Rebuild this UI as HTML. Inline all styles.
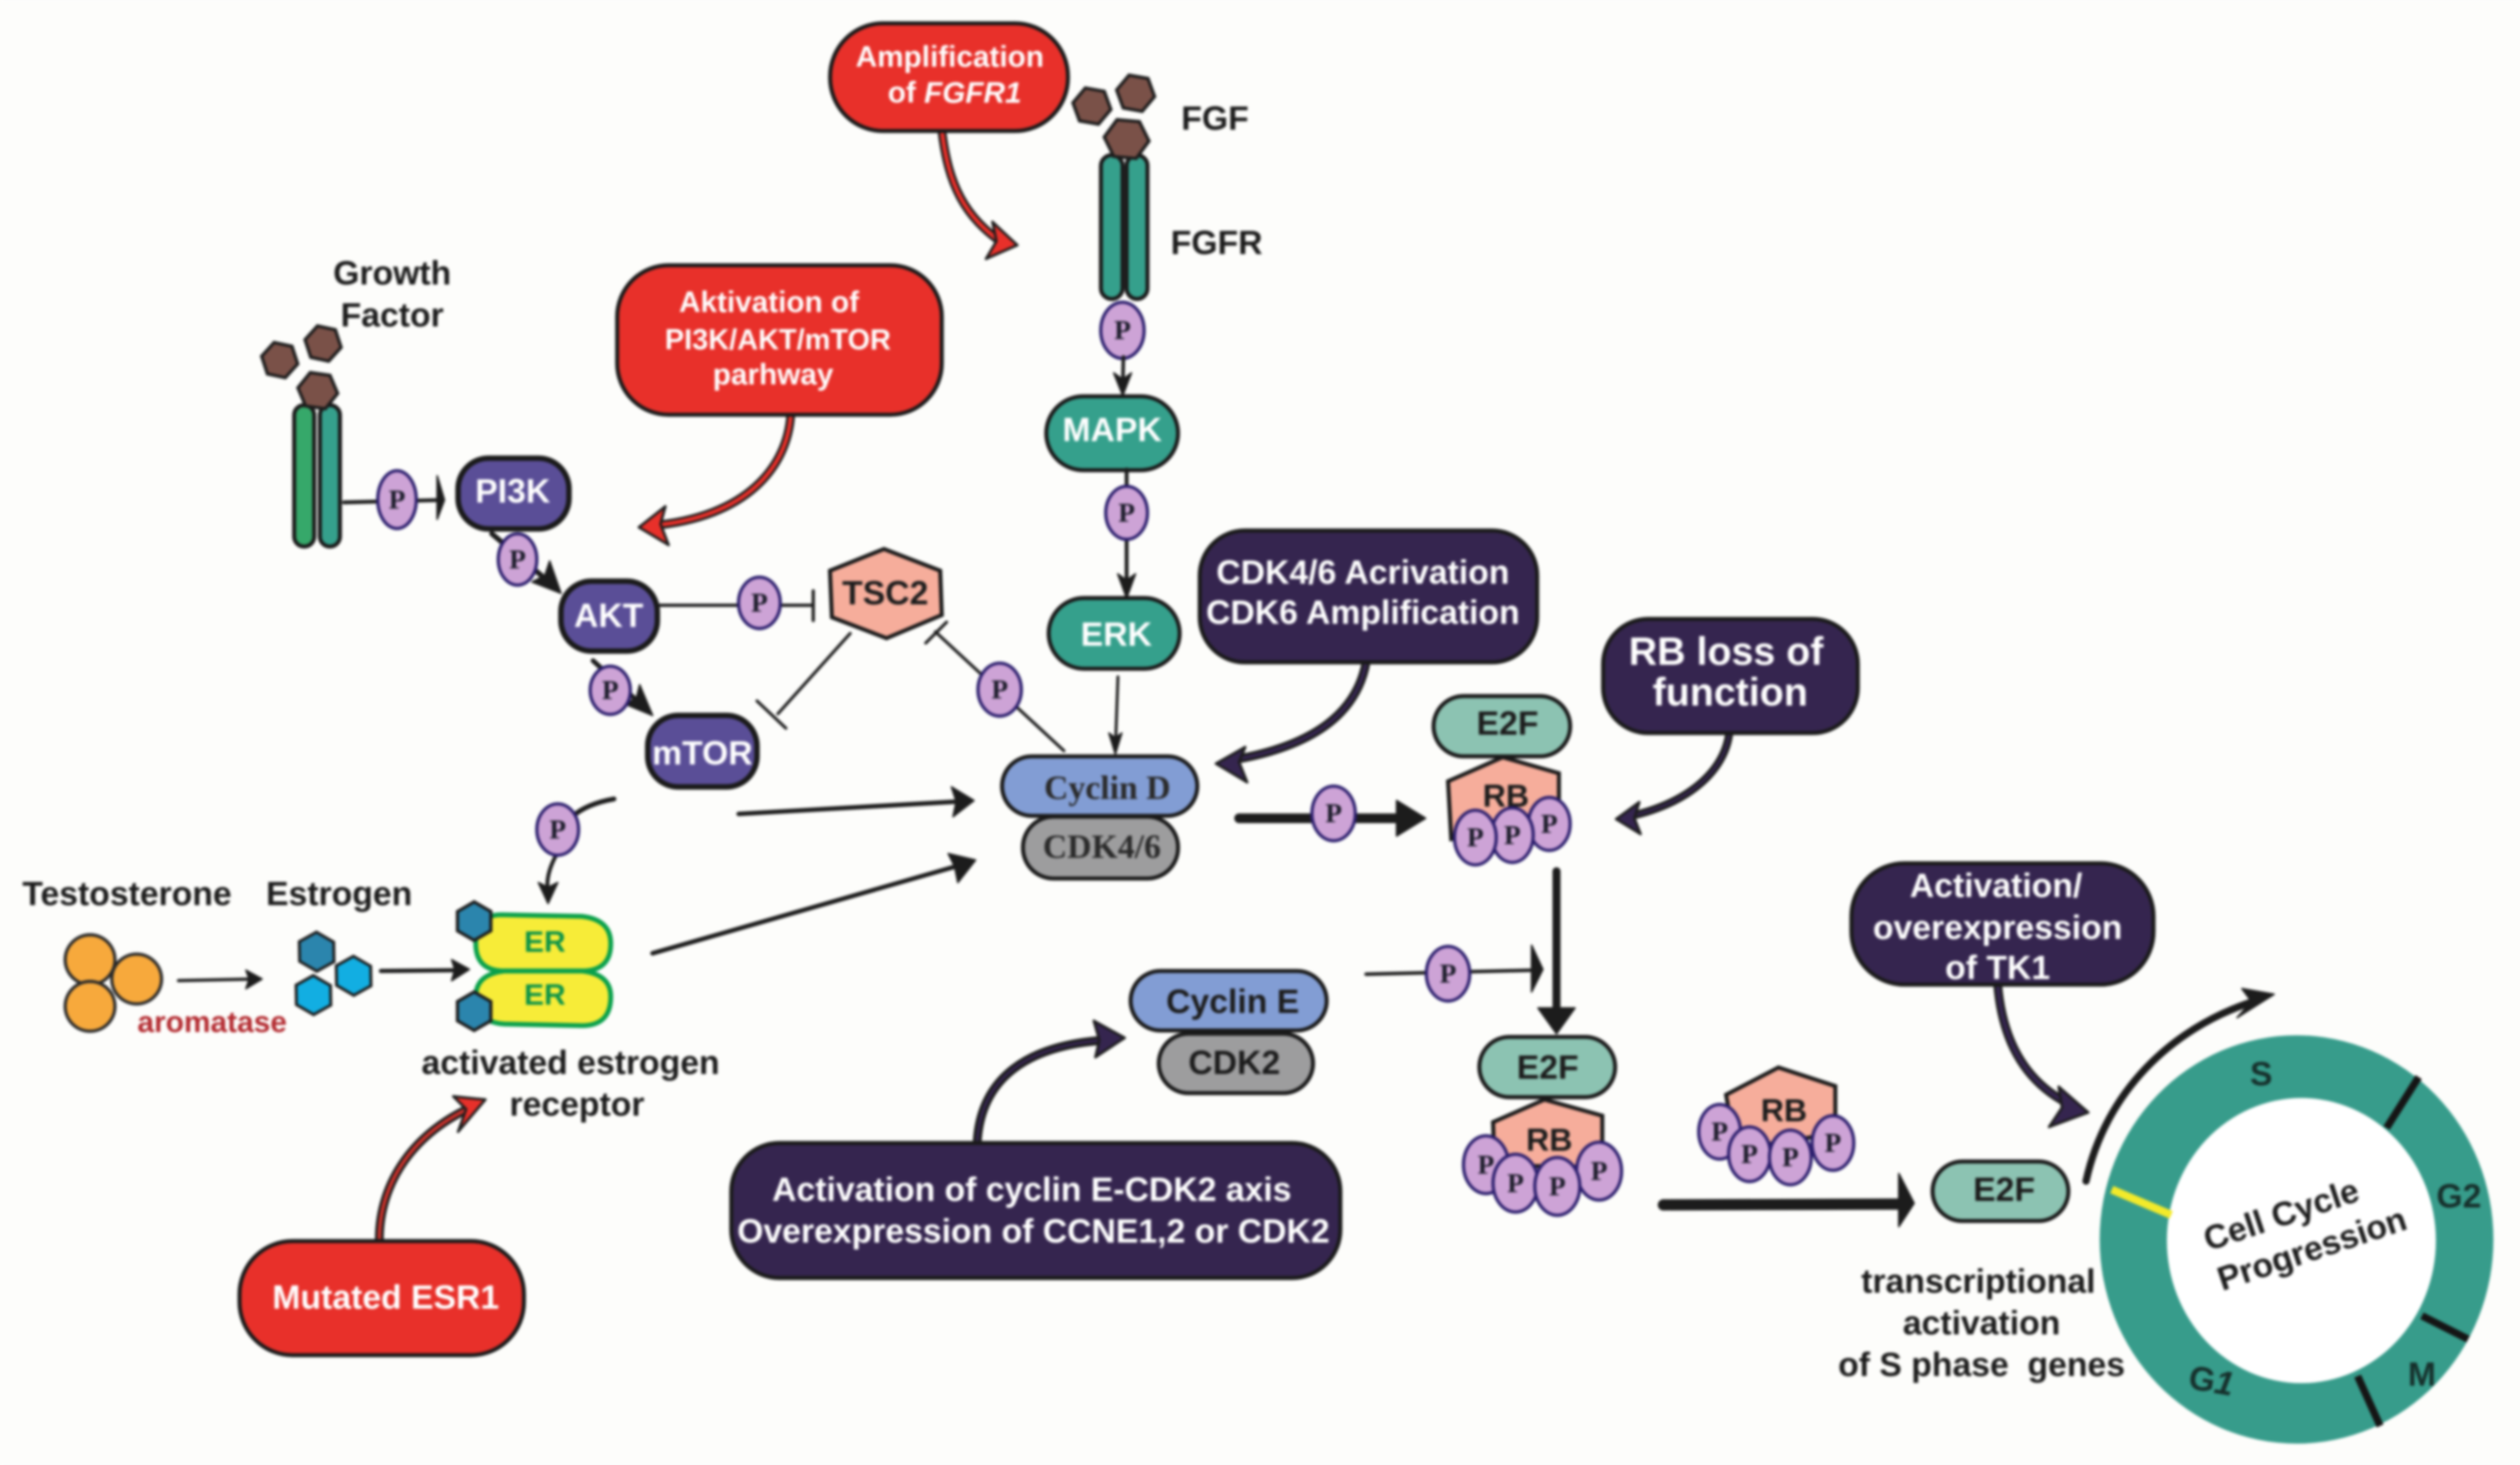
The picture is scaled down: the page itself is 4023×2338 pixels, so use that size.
<!DOCTYPE html>
<html><head><meta charset="utf-8">
<style>
html,body{margin:0;padding:0;background:#fdfdfb;width:4023px;height:2338px;overflow:hidden}
svg{display:block;width:4023px;height:2338px;filter:blur(2px)}
text{font-family:"Liberation Sans",sans-serif;font-weight:bold;font-size:21px;text-anchor:middle;dominant-baseline:central;fill:#1c1c1c}
.w{fill:#fff}
.s{font-family:"Liberation Serif",serif;fill:#2a2a2a}
.pt{font-family:"Liberation Serif",serif;font-size:17px;fill:#1c1c2a}
.p{fill:#cda3d6;stroke:#2c1f6e;stroke-width:2}
.hb{fill:#7a5148;stroke:#1c1c1c;stroke-width:2}
.box{stroke:#1a1a1a;stroke-width:2.5}
.red{fill:#e8302a}.nav{fill:#35254f}.pur{fill:#5a4e97}.tea{fill:#35a08c}.lt{fill:#8cc3b2}.sal{fill:#f6ad9b}.blu{fill:#829dd4}.gr{fill:#9d9d9e}
.l{fill:none;stroke:#1c1c1c;stroke-linecap:round}
.f{fill:#1c1c1c;stroke:#1c1c1c;stroke-width:1;stroke-linejoin:round}
</style></head><body>
<svg xmlns="http://www.w3.org/2000/svg" viewBox="0 0 1568 911.3">
<rect width="1568" height="911.3" fill="#fdfdfb"/>

<!-- Red callout: FGFR1 -->
<path class="l" d="M586 81 C590 115 600 135 625 152" stroke-width="5.5"/>
<path d="M586 81 C590 115 600 135 625 152" fill="none" stroke="#e8302a" stroke-width="2.5"/>
<polygon points="633,152.5 617.5,138 620,150 613.5,161" fill="#e8302a" stroke="#1c1c1c" stroke-width="1.6" stroke-linejoin="round"/>
<rect class="box red" x="516.5" y="14.5" width="148" height="67" rx="33"/>
<text class="w" x="591" y="35.4" style="font-size:18.5px">Amplification</text>
<text class="w" x="594" y="57.7" style="font-size:18.5px">of <tspan font-style="italic">FGFR1</tspan></text>

<!-- FGFR -->
<rect class="box tea" x="685" y="96.5" width="13.5" height="89.5" rx="6.7"/>
<rect class="box tea" x="701" y="96.5" width="13" height="89.5" rx="6.5"/>
<polygon class="hb" transform="translate(679.4,66) rotate(10)" points="12,0 6,10.4 -6,10.4 -12,0 -6,-10.4 6,-10.4"/>
<polygon class="hb" transform="translate(706.6,58) rotate(10)" points="12,0 6,10.4 -6,10.4 -12,0 -6,-10.4 6,-10.4"/>
<polygon class="hb" transform="translate(701,86.5) rotate(5)" points="14,0 7,11.5 -7,11.5 -14,0 -7,-11.5 7,-11.5"/>
<text x="756" y="73.6">FGF</text>
<text x="757" y="151">FGFR</text>

<g transform="translate(698.4,205.5)"><ellipse class="p" rx="13.5" ry="17.5"/><text class="pt">P</text></g>
<path class="l" d="M699 222 L698.6 240" stroke-width="2.2"/>
<polygon class="f" points="698.6,246 693,232 698.6,236 704,232"/>
<rect class="box tea" x="651" y="246.5" width="82" height="46" rx="23"/>
<text class="w" x="692" y="267.4">MAPK</text>

<path class="l" d="M701 292 L701 366" stroke-width="2.4"/>
<polygon class="f" points="701,372 695.5,357 701,361 706.5,357"/>
<g transform="translate(701,319)"><ellipse class="p" rx="13" ry="16.5"/><text class="pt">P</text></g>
<rect class="box tea" x="652.5" y="372" width="81.5" height="44" rx="22"/>
<text class="w" x="694.6" y="394.6">ERK</text>
<path class="l" d="M695.6 421 L694 466" stroke-width="1.8"/>
<polygon class="f" points="694,469 690,456 694,459 698,456"/>

<!-- Growth factor -->
<text x="244" y="170">Growth</text>
<text x="244" y="196">Factor</text>
<rect class="box" fill="#36a86a" x="183" y="252" width="12.5" height="88" rx="6.2"/>
<rect class="box tea" x="199" y="252" width="12.5" height="88" rx="6.2"/>
<polygon class="hb" transform="translate(174,224) rotate(12)" points="11.5,0 5.7,10 -5.7,10 -11.5,0 -5.7,-10 5.7,-10"/>
<polygon class="hb" transform="translate(201,213.7) rotate(12)" points="11.5,0 5.7,10 -5.7,10 -11.5,0 -5.7,-10 5.7,-10"/>
<polygon class="hb" transform="translate(197.7,243) rotate(8)" points="12.5,0 6.2,10.5 -6.2,10.5 -12.5,0 -6.2,-10.5 6.2,-10.5"/>
<path class="l" d="M214 312.5 L275 311" stroke-width="2.4"/>
<polygon class="f" points="276.5,311 272,296 272,323"/>
<g transform="translate(247,310.8)"><ellipse class="p" rx="12" ry="18"/><text class="pt">P</text></g>
<rect class="box pur" x="285" y="285" width="69" height="44" rx="19" style="stroke-width:3.4"/>
<text class="w" x="319" y="305.6">PI3K</text>

<path class="l" d="M306 332 L344 364" stroke-width="3.2"/>
<polygon class="f" points="349,369 331,362 339,358 342,349"/>
<g transform="translate(322,348)"><ellipse class="p" rx="12" ry="16"/><text class="pt">P</text></g>
<rect class="box pur" x="349" y="361.5" width="60" height="43.5" rx="19" style="stroke-width:3.4"/>
<text class="w" x="378.7" y="383">AKT</text>

<path class="l" d="M409 376.5 L506 376.5" stroke-width="2"/>
<path class="l" d="M506 367.5 L506 386" stroke-width="2"/>
<g transform="translate(472.5,375)"><ellipse class="p" rx="13" ry="16"/><text class="pt">P</text></g>

<polygon class="box sal" points="550,341.5 585,355 586,382.6 551.6,397 517.6,384 516.4,355"/>
<text x="550.8" y="369">TSC2</text>

<path class="l" d="M369 411 L402 441" stroke-width="3"/>
<polygon class="f" points="406,445 389,438 396,434 398,426"/>
<g transform="translate(379.7,429.4)"><ellipse class="p" rx="12.5" ry="15"/><text class="pt">P</text></g>
<rect class="box pur" x="403" y="445" width="68" height="44.5" rx="19" style="stroke-width:3.4"/>
<text class="w" x="437" y="468.5">mTOR</text>

<path class="l" d="M529 394 L484 444" stroke-width="1.9"/>
<path class="l" d="M471 436 L489 453" stroke-width="1.9"/>
<path class="l" d="M662 467 L582 393" stroke-width="1.9"/>
<path class="l" d="M576 400 L589 387" stroke-width="1.9"/>
<g transform="translate(622,429)"><ellipse class="p" rx="13.5" ry="16.5"/><text class="pt">P</text></g>

<!-- Aktivation callout -->
<path class="l" d="M492 258 C490 290 465 322 405 327" stroke-width="5.5"/>
<path d="M492 258 C490 290 465 322 405 327" fill="none" stroke="#e8302a" stroke-width="2.5"/>
<polygon points="397.5,328 414,315 411,326 416,339" fill="#e8302a" stroke="#1c1c1c" stroke-width="1.6" stroke-linejoin="round"/>
<rect class="box red" x="384" y="165" width="202" height="93" rx="32"/>
<text class="w" x="478.5" y="188" style="font-size:18.5px">Aktivation of</text>
<text class="w" x="484" y="211" style="font-size:18px">PI3K/AKT/mTOR</text>
<text class="w" x="481" y="233" style="font-size:18.5px">parhway</text>

<!-- Cyclin D -->
<path class="l" d="M459.6 506.3 L598 498.5" stroke-width="2.8"/>
<polygon class="f" points="606,498 592,489.5 595,498.5 593,508"/>
<path class="l" d="M406 593 L598 538" stroke-width="2.8"/>
<polygon class="f" points="607,535 590,531 594,539 596,549"/>
<rect class="box gr" x="636.5" y="508" width="96.5" height="38.5" rx="19"/>
<text class="s" x="685.6" y="526.5">CDK4/6</text>
<rect class="box blu" x="623.5" y="470.5" width="121.5" height="37" rx="18.5"/>
<text class="s" x="689" y="490">Cyclin D</text>

<!-- CDK4/6 callout -->
<path class="l" d="M850 412 C844 445 815 465 765 473" stroke-width="5.5"/>
<path d="M850 412 C844 445 815 465 765 473" fill="none" stroke="#35254f" stroke-width="2.2"/>
<polygon points="756.6,475 774.8,464.7 771,474 776,486.6" fill="#35254f" stroke="#1c1c1c" stroke-width="1.6" stroke-linejoin="round"/>
<rect class="box nav" x="746.5" y="330" width="210" height="82" rx="28"/>
<text class="w" x="848" y="356">CDK4/6 Acrivation</text>
<text class="w" x="848" y="381">CDK6 Amplification</text>

<!-- RB loss -->
<path class="l" d="M1076 456 C1073 480 1050 500 1013 508" stroke-width="5"/>
<path d="M1076 456 C1073 480 1050 500 1013 508" fill="none" stroke="#35254f" stroke-width="1.6"/>
<polygon points="1005.6,509.5 1020,499 1017,509 1020.8,518.8" fill="#35254f" stroke="#1c1c1c" stroke-width="1.6" stroke-linejoin="round"/>
<rect class="box nav" x="997.5" y="385" width="158.5" height="71" rx="28"/>
<text class="w" x="1074" y="405.3" style="font-size:24.5px">RB loss of</text>
<text class="w" x="1076.6" y="430.7" style="font-size:24.5px">function</text>

<!-- Cyclin D -> RB -->
<path class="l" d="M771 509 L872 509" stroke-width="6"/>
<polygon class="f" points="887,509 869,498 869,520"/>
<g transform="translate(829.8,506)"><ellipse class="p" rx="13.5" ry="17"/><text class="pt">P</text></g>

<polygon class="box sal" points="935,471 970,481 970,515 903,522 901,486"/>
<rect class="box lt" x="892" y="433" width="85" height="37.5" rx="18.7"/>
<text x="938" y="450">E2F</text>
<text x="937" y="495" style="font-size:20px">RB</text>
<g transform="translate(964,512.5)"><ellipse class="p" rx="13" ry="16.5"/><text class="pt">P</text></g>
<g transform="translate(941,519.5)"><ellipse class="p" rx="13" ry="17"/><text class="pt">P</text></g>
<g transform="translate(918,521)"><ellipse class="p" rx="13" ry="17"/><text class="pt">P</text></g>

<path class="l" d="M968.5 542 L968.5 632" stroke-width="5"/>
<polygon class="f" points="968.5,643 957,627 980,627"/>

<!-- Cyclin E -->
<rect class="box gr" x="721" y="643" width="96" height="37" rx="18.5"/>
<text x="768" y="661">CDK2</text>
<rect class="box blu" x="703.5" y="604" width="122" height="37" rx="18.5"/>
<text x="767" y="623">Cyclin E</text>
<path class="l" d="M850 606 L954 603.5" stroke-width="2.2"/>
<polygon class="f" points="960,603 953,588 953,617"/>
<g transform="translate(901,605.7)"><ellipse class="p" rx="13.5" ry="17"/><text class="pt">P</text></g>

<rect class="box lt" x="920.5" y="645" width="84.5" height="37.5" rx="18.7"/>
<text x="963" y="664">E2F</text>
<polygon class="box sal" points="961,684 997,694 997,726 930,725 929,698"/>
<text x="964" y="709" style="font-size:20px">RB</text>
<g transform="translate(995,728.5)"><ellipse class="p" rx="14" ry="18"/><text class="pt">P</text></g>
<g transform="translate(924.6,724.5)"><ellipse class="p" rx="14" ry="18"/><text class="pt">P</text></g>
<g transform="translate(943,736)"><ellipse class="p" rx="14" ry="18"/><text class="pt">P</text></g>
<g transform="translate(969,738)"><ellipse class="p" rx="14" ry="18"/><text class="pt">P</text></g>

<!-- Cyclin E callout -->
<path class="l" d="M608 711 C610 670 640 650 688 647" stroke-width="5.5"/>
<path d="M608 711 C610 670 640 650 688 647" fill="none" stroke="#35254f" stroke-width="1.8"/>
<polygon points="699.8,645.6 680.6,635 684,647 681.6,657.6" fill="#35254f" stroke="#1c1c1c" stroke-width="1.6" stroke-linejoin="round"/>
<rect class="box nav" x="455" y="711" width="379" height="84" rx="30"/>
<text class="w" x="642" y="740">Activation of cyclin E-CDK2 axis</text>
<text class="w" x="643" y="766">Overexpression of CCNE1,2 or CDK2</text>

<!-- Left side -->
<text x="79" y="556">Testosterone</text>
<text x="211" y="556">Estrogen</text>
<circle cx="56" cy="597" r="15.5" fill="#f7a93c" stroke="#2a2a2a" stroke-width="2"/>
<circle cx="85" cy="609" r="15.5" fill="#f7a93c" stroke="#2a2a2a" stroke-width="2"/>
<circle cx="56" cy="626" r="15.5" fill="#f7a93c" stroke="#2a2a2a" stroke-width="2"/>
<path class="l" d="M111 610 L158 609" stroke-width="2"/>
<polygon class="f" points="163,609 153,603.5 155,609 153,615"/>
<text x="132" y="636" style="font-size:18.6px;fill:#b32a30">aromatase</text>
<polygon transform="translate(197,592) rotate(30)" points="12.5,0 6.2,10.5 -6.2,10.5 -12.5,0 -6.2,-10.5 6.2,-10.5" fill="#2b85ad" stroke="#1c1c1c" stroke-width="1.8"/>
<polygon transform="translate(220,607) rotate(30)" points="12.5,0 6.2,10.5 -6.2,10.5 -12.5,0 -6.2,-10.5 6.2,-10.5" fill="#12aee2" stroke="#1c1c1c" stroke-width="1.8"/>
<polygon transform="translate(195,619) rotate(30)" points="12.5,0 6.2,10.5 -6.2,10.5 -12.5,0 -6.2,-10.5 6.2,-10.5" fill="#12aee2" stroke="#1c1c1c" stroke-width="1.8"/>
<path class="l" d="M237 604 L285 603.5" stroke-width="2.6"/>
<polygon class="f" points="292,603 281,597 283,603 281,610"/>

<path d="M312 569 L362 570 Q380 572 380 587 Q380 604 362 604 L314 604 Q296 604 296 587 Q296 569 312 569Z" fill="#f7ec38" stroke="#0aa14b" stroke-width="3"/>
<path d="M314 604 L362 604 Q380 606 380 620 Q380 638 362 638 L314 637 Q296 636 296 620 Q296 606 314 604Z" fill="#f7ec38" stroke="#0aa14b" stroke-width="3"/>
<text x="339" y="586" style="font-size:18.6px;fill:#0e9448">ER</text>
<text x="339" y="619" style="font-size:18.6px;fill:#0e9448">ER</text>
<polygon transform="translate(295,573) rotate(30)" points="12,0 6,10.4 -6,10.4 -12,0 -6,-10.4 6,-10.4" fill="#2b85ad" stroke="#1c1c1c" stroke-width="2"/>
<polygon transform="translate(295,629) rotate(30)" points="12,0 6,10.4 -6,10.4 -12,0 -6,-10.4 6,-10.4" fill="#2b85ad" stroke="#1c1c1c" stroke-width="2"/>

<path class="l" d="M382 497 Q365 500 356 508" stroke-width="3"/>
<path class="l" d="M346 532 Q339 545 341 555" stroke-width="2.4"/>
<polygon class="f" points="341,562 335,549 341,552 347,549"/>
<g transform="translate(347,516)"><ellipse class="p" rx="13" ry="16"/><text class="pt">P</text></g>

<text x="355" y="661">activated estrogen</text>
<text x="359" y="687">receptor</text>

<path class="l" d="M236 771 C236 735 258 704 295 688" stroke-width="5.5"/>
<path d="M236 771 C236 735 258 704 295 688" fill="none" stroke="#c9322c" stroke-width="2.2"/>
<polygon points="302,684 282,682 290,690 285,704" fill="#e8302a" stroke="#1c1c1c" stroke-width="1.6" stroke-linejoin="round"/>
<rect class="box red" x="149" y="772" width="177" height="71" rx="33"/>
<text class="w" x="240" y="807">Mutated ESR1</text>

<!-- Free RB & arrow -->
<polygon class="box sal" points="1106.6,664 1142,675.6 1142,705 1080,715 1074,681"/>
<text x="1110" y="690.6" style="font-size:20px">RB</text>
<g transform="translate(1070,704)"><ellipse class="p" rx="13" ry="17"/><text class="pt">P</text></g>
<g transform="translate(1140.5,711)"><ellipse class="p" rx="13" ry="17"/><text class="pt">P</text></g>
<g transform="translate(1088.6,718)"><ellipse class="p" rx="13" ry="17"/><text class="pt">P</text></g>
<g transform="translate(1114,720)"><ellipse class="p" rx="13" ry="17"/><text class="pt">P</text></g>
<path class="l" d="M1035 749.5 L1182 749" stroke-width="7"/>
<polygon class="f" points="1191,748.5 1181.5,730 1181.5,763"/>

<rect class="box lt" x="1202.5" y="722.5" width="84.5" height="37" rx="18.5"/>
<text x="1247" y="740">E2F</text>

<!-- TK1 -->
<path class="l" d="M1243 612 C1246 650 1262 675 1290 688" stroke-width="5.5"/>
<path d="M1243 612 C1246 650 1262 675 1290 688" fill="none" stroke="#35254f" stroke-width="2.6"/>
<polygon points="1299.4,692 1281,676 1283,689 1275,701" fill="#35254f" stroke="#1c1c1c" stroke-width="1.6" stroke-linejoin="round"/>
<rect class="box nav" x="1152" y="537" width="188" height="75.5" rx="33"/>
<text class="w" x="1242" y="551">Activation/</text>
<text class="w" x="1243" y="577">overexpression</text>
<text class="w" x="1243" y="602">of TK1</text>

<!-- Cycle -->
<path class="l" d="M1298 734.7 C1310 680 1350 640 1402 623" stroke-width="4.5"/>
<polygon class="f" points="1415,618.5 1395,615 1401,623 1392,633"/>
<ellipse cx="1429" cy="771" rx="122.5" ry="127" fill="#379c8b"/>
<ellipse cx="1432" cy="771.7" rx="83.7" ry="88.7" fill="#fff"/>
<path d="M1505 670 L1485 701.6" stroke="#151515" stroke-width="4.6"/>
<path d="M1507 818.5 L1535.7 833" stroke="#151515" stroke-width="4.6"/>
<path d="M1467 856 L1481 887" stroke="#151515" stroke-width="4.6"/>
<path d="M1314 740 L1351 755.7" stroke="#f3ea2a" stroke-width="5"/>
<text x="1407" y="668" style="fill:#16302c">S</text>
<text x="1530" y="744" style="fill:#16302c">G2</text>
<text x="1507" y="855" style="fill:#16302c">M</text>
<text x="1376" y="859" transform="rotate(10 1376 859)" style="fill:#16302c">G<tspan font-style="italic">1</tspan></text>
<text x="1419.5" y="755.7" transform="rotate(-18.5 1419.5 755.7)">Cell Cycle</text>
<text x="1438.6" y="777" transform="rotate(-18.5 1438.6 777)">Progression</text>

<text x="1231" y="797">transcriptional</text>
<text x="1233" y="823">activation</text>
<text x="1233" y="849">of S phase&#160; genes</text>
</svg>
</body></html>
